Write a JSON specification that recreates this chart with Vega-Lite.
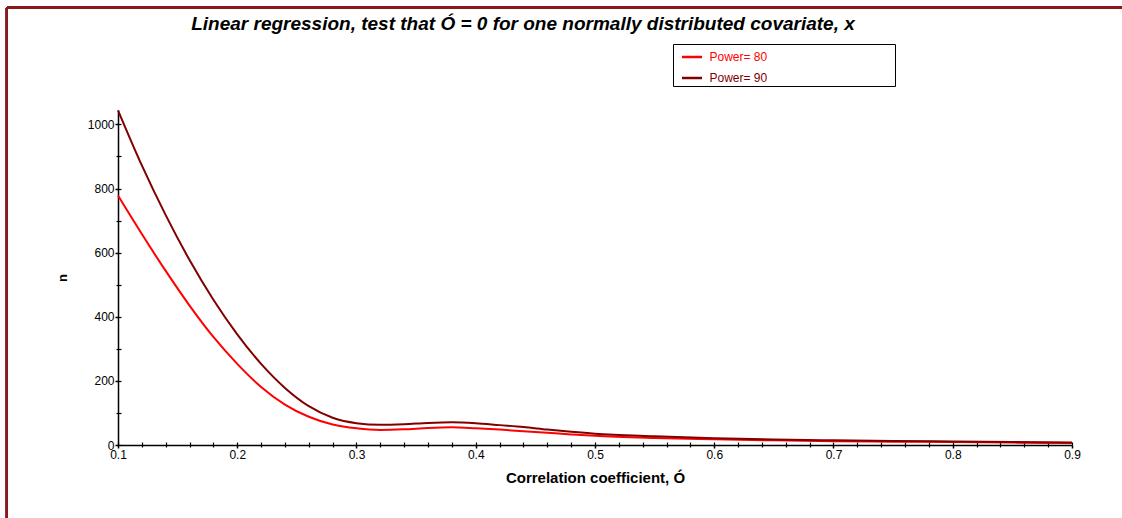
{
  "$schema": "https://vega.github.io/schema/vega-lite/v6.json",
  "width": 954,
  "height": 335,
  "autosize": {"type": "none"},
  "padding": {"left": 118, "top": 110, "right": 50, "bottom": 73},
  "background": "white",
  "config": {
    "font": "Liberation Sans",
    "view": {"stroke": null},
    "axis": {"grid": false, "labelFont": "Liberation Sans", "titleFont": "Liberation Sans"}
  },
  "title": {
    "text": "Linear regression, test that Ó = 0 for one normally distributed covariate, x",
    "font": "Liberation Sans",
    "fontSize": 19,
    "fontWeight": "bold",
    "fontStyle": "italic",
    "color": "#000000",
    "anchor": "middle",
    "frame": "group",
    "dx": -72,
    "offset": -27
  },
  "data": {
    "values": [
      {"r": 0.10, "n": 778, "power": "Power= 80"},
      {"r": 0.12, "n": 658, "power": "Power= 80"},
      {"r": 0.14, "n": 543, "power": "Power= 80"},
      {"r": 0.16, "n": 435, "power": "Power= 80"},
      {"r": 0.18, "n": 337, "power": "Power= 80"},
      {"r": 0.20, "n": 253, "power": "Power= 80"},
      {"r": 0.22, "n": 181, "power": "Power= 80"},
      {"r": 0.24, "n": 126, "power": "Power= 80"},
      {"r": 0.26, "n": 88, "power": "Power= 80"},
      {"r": 0.28, "n": 64, "power": "Power= 80"},
      {"r": 0.30, "n": 52, "power": "Power= 80"},
      {"r": 0.32, "n": 47, "power": "Power= 80"},
      {"r": 0.34, "n": 49, "power": "Power= 80"},
      {"r": 0.36, "n": 53, "power": "Power= 80"},
      {"r": 0.38, "n": 55, "power": "Power= 80"},
      {"r": 0.40, "n": 52, "power": "Power= 80"},
      {"r": 0.42, "n": 48, "power": "Power= 80"},
      {"r": 0.44, "n": 43, "power": "Power= 80"},
      {"r": 0.46, "n": 38, "power": "Power= 80"},
      {"r": 0.48, "n": 33, "power": "Power= 80"},
      {"r": 0.50, "n": 28.5, "power": "Power= 80"},
      {"r": 0.55, "n": 22, "power": "Power= 80"},
      {"r": 0.60, "n": 18, "power": "Power= 80"},
      {"r": 0.65, "n": 14.5, "power": "Power= 80"},
      {"r": 0.70, "n": 12, "power": "Power= 80"},
      {"r": 0.75, "n": 10.5, "power": "Power= 80"},
      {"r": 0.80, "n": 9, "power": "Power= 80"},
      {"r": 0.85, "n": 7.5, "power": "Power= 80"},
      {"r": 0.90, "n": 6, "power": "Power= 80"},
      {"r": 0.10, "n": 1044, "power": "Power= 90"},
      {"r": 0.12, "n": 872, "power": "Power= 90"},
      {"r": 0.14, "n": 717, "power": "Power= 90"},
      {"r": 0.16, "n": 577, "power": "Power= 90"},
      {"r": 0.18, "n": 453, "power": "Power= 90"},
      {"r": 0.20, "n": 345, "power": "Power= 90"},
      {"r": 0.22, "n": 253, "power": "Power= 90"},
      {"r": 0.24, "n": 178, "power": "Power= 90"},
      {"r": 0.26, "n": 121, "power": "Power= 90"},
      {"r": 0.28, "n": 85, "power": "Power= 90"},
      {"r": 0.30, "n": 68, "power": "Power= 90"},
      {"r": 0.32, "n": 63, "power": "Power= 90"},
      {"r": 0.34, "n": 65, "power": "Power= 90"},
      {"r": 0.36, "n": 69, "power": "Power= 90"},
      {"r": 0.38, "n": 71, "power": "Power= 90"},
      {"r": 0.40, "n": 68, "power": "Power= 90"},
      {"r": 0.42, "n": 62, "power": "Power= 90"},
      {"r": 0.44, "n": 56, "power": "Power= 90"},
      {"r": 0.46, "n": 48, "power": "Power= 90"},
      {"r": 0.48, "n": 41, "power": "Power= 90"},
      {"r": 0.50, "n": 35, "power": "Power= 90"},
      {"r": 0.55, "n": 27, "power": "Power= 90"},
      {"r": 0.60, "n": 21, "power": "Power= 90"},
      {"r": 0.65, "n": 17, "power": "Power= 90"},
      {"r": 0.70, "n": 14.5, "power": "Power= 90"},
      {"r": 0.75, "n": 12.5, "power": "Power= 90"},
      {"r": 0.80, "n": 11, "power": "Power= 90"},
      {"r": 0.85, "n": 9.5, "power": "Power= 90"},
      {"r": 0.90, "n": 8, "power": "Power= 90"}
    ]
  },
  "resolve": {"axis": {"x": "independent", "y": "independent"}},
  "layer": [
    {
      "mark": {"type": "line", "interpolate": "monotone", "strokeWidth": 2},
      "encoding": {
        "x": {
          "field": "r", "type": "quantitative",
          "scale": {"domain": [0.1, 0.9], "nice": false, "zero": false},
          "axis": {
            "orient": "bottom",
            "title": "Correlation coefficient, Ó",
            "titleFontSize": 15, "titleFontWeight": "bold", "titleColor": "#000000", "titlePadding": 10,
            "values": [0.1, 0.2, 0.3, 0.4, 0.5, 0.6, 0.7, 0.8, 0.9],
            "format": ".1f",
            "labelFontSize": 12, "labelColor": "#000000", "labelPadding": 1, "labelOverlap": false, "labelFlush": false,
            "tickSize": 3, "tickWidth": 1.5, "tickColor": "#000000",
            "domainColor": "#000000", "domainWidth": 1.5
          }
        },
        "y": {
          "field": "n", "type": "quantitative",
          "scale": {"domain": [0, 1045], "nice": false},
          "axis": {
            "orient": "left",
            "title": "n",
            "titleFontSize": 13, "titleFontWeight": "bold", "titleColor": "#000000", "titlePadding": 18,
            "values": [0, 200, 400, 600, 800, 1000],
            "format": "d",
            "labelFontSize": 12, "labelColor": "#000000", "labelPadding": 1, "labelOverlap": false, "labelFlush": false,
            "tickSize": 3, "tickWidth": 1.5, "tickColor": "#000000",
            "domainColor": "#000000", "domainWidth": 1.5
          }
        },
        "color": {
          "field": "power", "type": "nominal",
          "scale": {"domain": ["Power= 80", "Power= 90"], "range": ["#ff0000", "#800000"]},
          "legend": {
            "title": null,
            "orient": "none",
            "legendX": 555,
            "legendY": -66,
            "direction": "vertical",
            "symbolType": "stroke",
            "symbolSize": 400,
            "symbolStrokeWidth": 2.5,
            "symbolOffset": 6,
            "labelOffset": 6,
            "labelFontSize": 12,
            "labelFont": "Liberation Sans",
            "labelLimit": 400,
            "labelColor": {"expr": "datum.value === 'Power= 80' ? '#ff0000' : '#800000'"},
            "labelExpr": "datum.label + '\u2800\u2800\u2800\u2800\u2800\u2800\u2800\u2800\u2800\u2800\u2800\u2800\u2800\u2800'",
            "rowPadding": 3,
            "padding": 1.5,
            "strokeColor": "#000000",
            "fillColor": "#ffffff"
          }
        }
      }
    },
    {
      "mark": {"type": "line", "opacity": 0},
      "encoding": {
        "detail": {"field": "power"},
        "x": {
          "field": "r", "type": "quantitative",
          "axis": {
            "orient": "bottom", "title": null, "labels": false, "domain": false,
            "values": [0.1, 0.12, 0.14, 0.16, 0.18, 0.2, 0.22, 0.24, 0.26, 0.28, 0.3, 0.32, 0.34, 0.36, 0.38, 0.4, 0.42, 0.44, 0.46, 0.48, 0.5, 0.52, 0.54, 0.56, 0.58, 0.6, 0.62, 0.64, 0.66, 0.68, 0.7, 0.72, 0.74, 0.76, 0.78, 0.8, 0.82, 0.84, 0.86, 0.88, 0.9],
            "tickSize": -3, "tickWidth": 1.2, "tickColor": "#000000"
          }
        },
        "y": {
          "field": "n", "type": "quantitative",
          "axis": {
            "orient": "left", "title": null, "labels": false, "domain": false,
            "values": [0, 100, 200, 300, 400, 500, 600, 700, 800, 900, 1000],
            "tickSize": -3, "tickWidth": 1.2, "tickColor": "#000000"
          }
        }
      }
    },
    {
      "mark": {"type": "line", "opacity": 0},
      "encoding": {
        "detail": {"field": "power"},
        "x": {
          "field": "r", "type": "quantitative",
          "axis": {
            "orient": "bottom", "title": null, "labels": false, "domain": false,
            "values": [0.12, 0.14, 0.16, 0.18, 0.22, 0.24, 0.26, 0.28, 0.32, 0.34, 0.36, 0.38, 0.42, 0.44, 0.46, 0.48, 0.52, 0.54, 0.56, 0.58, 0.62, 0.64, 0.66, 0.68, 0.72, 0.74, 0.76, 0.78, 0.82, 0.84, 0.86, 0.88],
            "tickSize": 2, "tickWidth": 1.2, "tickColor": "#000000"
          }
        },
        "y": {
          "field": "n", "type": "quantitative",
          "axis": {
            "orient": "left", "title": null, "labels": false, "domain": false,
            "values": [100, 300, 500, 700, 900],
            "tickSize": 2, "tickWidth": 1.2, "tickColor": "#000000"
          }
        }
      }
    },
    {
      "mark": {"type": "rule", "color": "#8b1a1a", "strokeWidth": 2},
      "encoding": {
        "x": {"datum": 0.0069, "type": "quantitative", "axis": null},
        "x2": {"datum": 0.96},
        "y": {"datum": 1364, "type": "quantitative", "axis": null}
      }
    },
    {
      "mark": {"type": "rule", "color": "#8b1a1a", "strokeWidth": 2},
      "encoding": {
        "x": {"datum": 0.0069, "type": "quantitative", "axis": null},
        "y": {"datum": -240, "type": "quantitative", "axis": null},
        "y2": {"datum": 1364}
      }
    }
  ]
}
